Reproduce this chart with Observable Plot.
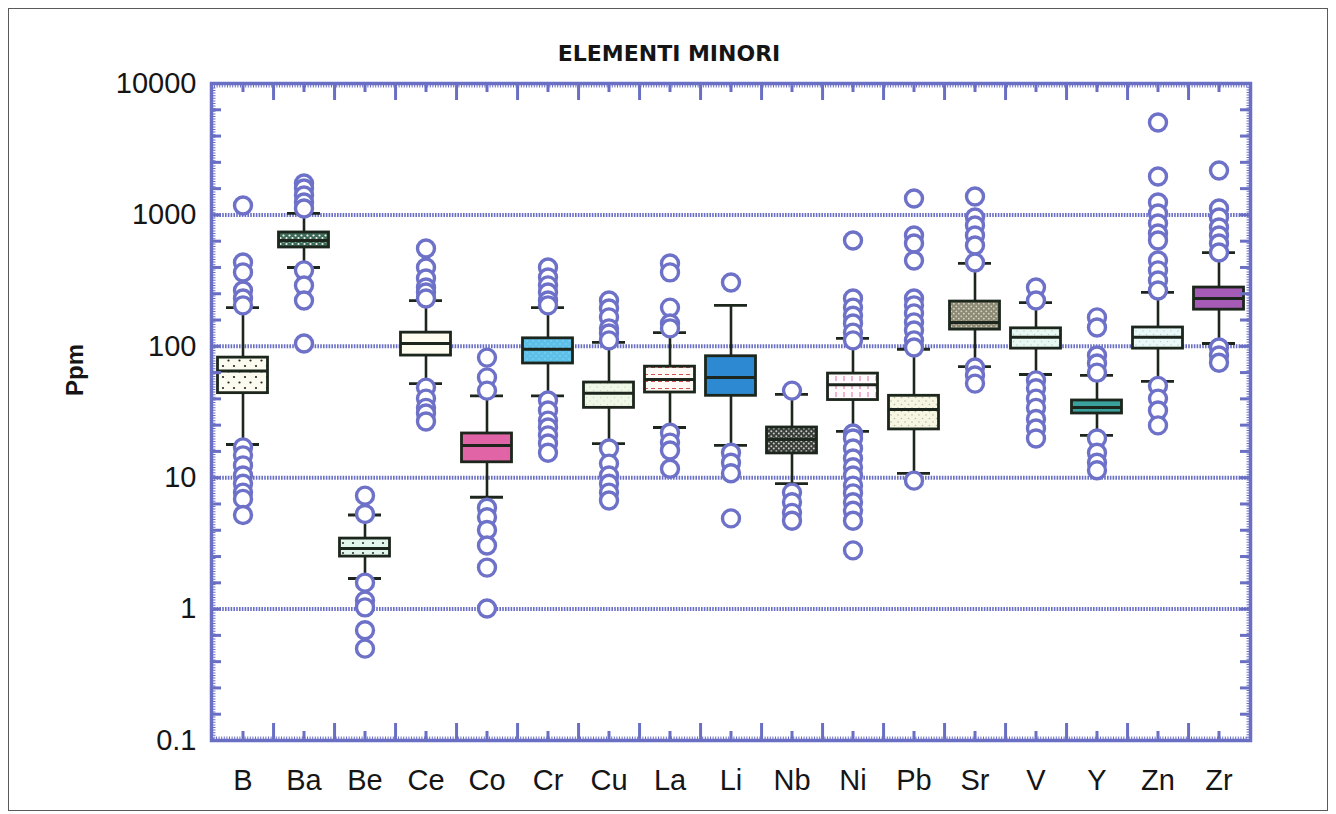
<!DOCTYPE html>
<html>
<head>
<meta charset="utf-8">
<script src="https://cdn.jsdelivr.net/npm/d3@7"></script>
<script src="https://cdn.jsdelivr.net/npm/@observablehq/plot@0.6"></script>
<style>
  body { margin: 0; background: #ffffff; }
  #wrap { position: relative; width: 1336px; height: 814px; overflow: hidden; }
  #wrap svg { position: absolute; left: 0; top: 0; display: block; }
  #border { position: absolute; left: 8px; top: 8px; width: 1320px; height: 803px;
            border: 1.5px solid #5a5a5a; box-sizing: border-box; pointer-events: none; }
</style>
</head>
<body>
<div id="wrap"><div id="border"></div></div>
<script>
// ---------------- data ----------------
const elements    = ["B","Ba","Be","Ce","Co","Cr","Cu","La","Li","Nb","Ni","Pb","Sr","V","Y","Zn","Zr"];
const whiskerLow  = [17.9, 398, 1.71, 52, 7.1, 42, 18.2, 24.1, 17.6, 9.0, 22.5, 10.8, 70, 61, 21, 54, 105];
const quartile1   = [44, 565, 2.51, 85, 13.1, 74, 34, 44.5, 42, 15.3, 39, 23.3, 134, 96, 30.8, 96, 190];
const medians     = [65, 639, 2.89, 105, 17.6, 95, 44, 56, 58, 19.5, 51, 33, 152, 117, 34.2, 117, 231];
const quartile3   = [82, 735, 3.44, 127, 21.7, 115, 53, 70, 84, 24.1, 62, 42, 219, 137, 38.7, 139, 280];
const whiskerHigh = [197, 1026, 5.2, 223, 42, 197, 107, 127, 205, 43, 115, 95, 427, 215, 60, 257, 517];
const outlierValues = [
  [1180, 434, 365, 266, 231, 205, 17, 14.8, 12.4, 10.4, 9.0, 7.7, 6.9, 5.2],           // B
  [1734, 1589, 1405, 1242, 1119, 378, 290, 223, 105],                                  // Ba
  [7.3, 5.3, 1.59, 1.16, 1.03, 0.69, 0.50],                                            // Be
  [555, 398, 328, 280, 257, 231, 48.5, 40, 34, 30.8, 26.8],                            // Ce
  [82, 58, 46, 5.9, 5.0, 4.0, 3.05, 2.07, 1.01],                                       // Co
  [398, 334, 291, 257, 223, 205, 38.7, 32.5, 27.2, 24.1, 21, 18.2, 15.5],              // Cr
  [223, 194, 166, 137, 125, 111, 16.7, 12.8, 10.4, 9.0, 7.7, 6.7],                     // Cu
  [427, 365, 197, 149, 137, 22, 18.5, 16.1, 11.7],                                     // La
  [306, 15.5, 13, 10.8, 4.9],                                                          // Li
  [46, 7.7, 6.5, 5.4, 4.7],                                                            // Nb
  [638, 231, 197, 171, 149, 127, 111, 21.7, 19.9, 16.7, 14, 12, 10.4, 8.7, 7.6, 6.5, 5.6, 4.7, 2.8], // Ni
  [1334, 697, 606, 450, 231, 205, 178, 152, 132, 111, 98, 9.5],                        // Pb
  [1380, 955, 830, 697, 585, 434, 69, 60, 52],                                         // Sr
  [280, 223, 55, 48, 40, 34, 28, 23.7, 19.9],                                          // V
  [166, 139, 85, 74, 63, 19.9, 15.5, 13, 11.4],                                        // Y
  [5045, 1960, 1242, 1026, 861, 722, 639, 450, 378, 317, 266, 50, 40, 32.5, 25],       // Zn
  [2178, 1119, 955, 801, 697, 606, 517, 98, 85, 75]                                    // Zr
];
const yTickValues = [0.1, 1, 10, 100, 1000, 10000];
const yTickLabels = ["0.1", "1", "10", "100", "1000", "10000"];
const gridValues  = [1, 10, 100, 1000];
const titleText = "ELEMENTI MINORI";
const yLabelText = "Ppm";

// ---------------- styles ----------------
const boxFills = ["url(#pB)","url(#pBa)","url(#pBe)","#fffdf0","#e064a6","url(#pCr)","url(#pCu)","url(#pLa)",
                  "#2d8ad2","url(#pNb)","url(#pNi)","url(#pPb)","url(#pSr)","url(#pV)","#3aa09c","url(#pZn)","#a65cb6"];
const axisBlue = "#6a6fc4";
const ink = "#1c261c";

const W = 1336, H = 814, mL = 211, mR = 86, mT = 83, mB = 74;
const frameW = W - mL - mR, frameH = H - mT - mB;
const bw = frameW / elements.length;

const boxes = elements.map((el, i) => ({
  el, lo: whiskerLow[i], q1: quartile1[i], med: medians[i], q3: quartile3[i], hi: whiskerHigh[i], fill: boxFills[i]
}));
const outliers = elements.flatMap((el, i) => outlierValues[i].map(v => ({el, v})));
const minorY = d3.range(-5, 21).map(k => Math.pow(10, k / 5));
const boundaries = elements.slice(0, -1);

const boxInset = 5.5, capInset = 14;

const svg = Plot.plot({
  width: W, height: H,
  marginLeft: mL, marginRight: mR, marginTop: mT, marginBottom: mB,
  style: {fontFamily: "'Liberation Sans', Arial, sans-serif", background: "transparent", color: "#151515"},
  x: {type: "band", domain: elements, padding: 0, axis: null, label: null},
  y: {type: "log", domain: [0.1, 10000], axis: null, label: null},
  marks: [
    // grid
    Plot.ruleY(gridValues, {stroke: axisBlue, strokeWidth: 4, strokeDasharray: "1.6,1.2"}),
    // whiskers
    Plot.ruleX(boxes, {x: "el", y1: "q3", y2: "hi", stroke: ink, strokeWidth: 2.6}),
    Plot.ruleX(boxes, {x: "el", y1: "lo", y2: "q1", stroke: ink, strokeWidth: 2.6}),
    // boxes
    ...boxes.map(b => Plot.barY([b], {x: "el", y1: "q1", y2: "q3", fill: b.fill, stroke: ink, strokeWidth: 2.8,
                                      insetLeft: boxInset, insetRight: boxInset})),
    // medians
    Plot.tickY(boxes, {x: "el", y: "med", stroke: ink, strokeWidth: 3, insetLeft: boxInset, insetRight: boxInset}),
    // caps
    Plot.tickY(boxes, {x: "el", y: "hi", stroke: ink, strokeWidth: 2.8, insetLeft: capInset, insetRight: capInset}),
    Plot.tickY(boxes, {x: "el", y: "lo", stroke: ink, strokeWidth: 2.8, insetLeft: capInset, insetRight: capInset}),
    // outliers
    Plot.dot(outliers, {x: "el", y: "v", r: 8.5, stroke: "#6d71c8", strokeWidth: 3.4, fill: "white"}),
    // frame
    Plot.frame({stroke: axisBlue, strokeWidth: 3.5}),
    Plot.frame({stroke: axisBlue, strokeWidth: 3, strokeDasharray: "1,1.6", inset: 2.5}),
    // left / right minor ticks
    Plot.tickY(minorY, {y: d => d, stroke: axisBlue, strokeWidth: 3, insetRight: frameW - 10}),
    Plot.tickY(minorY, {y: d => d, stroke: axisBlue, strokeWidth: 3, insetLeft: frameW - 10}),
    // top ticks
    Plot.tickX(elements, {x: d => d, stroke: axisBlue, strokeWidth: 3, insetBottom: frameH - 9}),
    Plot.tickX(boundaries, {x: d => d, dx: bw / 2, stroke: axisBlue, strokeWidth: 3, insetBottom: frameH - 17}),
    // bottom ticks
    Plot.tickX(elements, {x: d => d, stroke: axisBlue, strokeWidth: 3, insetTop: frameH - 9}),
    Plot.tickX(boundaries, {x: d => d, dx: bw / 2, stroke: axisBlue, strokeWidth: 3, insetTop: frameH - 17}),
    // axes labels
    Plot.axisY(yTickValues, {anchor: "left", tickSize: 0, tickPadding: 15, fontSize: 29, label: null,
                             tickFormat: d => yTickLabels[yTickValues.indexOf(d)]}),
    Plot.axisX({anchor: "bottom", tickSize: 0, tickPadding: 29, fontSize: 29, label: null}),
    // title and y label
    Plot.text([titleText], {frameAnchor: "top", dx: -62, dy: -38, fontSize: 22, fontWeight: "bold",
                            fontFamily: "'DejaVu Sans', sans-serif", fill: "#151515"}),
    Plot.text([yLabelText], {frameAnchor: "left", dx: -136, dy: -16, rotate: -90, fontSize: 24, fontWeight: "bold", fill: "#151515"})
  ]
});

// ---------------- patterns ----------------
const defs = d3.select(svg).insert("defs", ":first-child");
function pattern(id, size, bg, draw) {
  const p = defs.append("pattern").attr("id", id).attr("patternUnits", "userSpaceOnUse")
    .attr("width", size).attr("height", size);
  p.append("rect").attr("width", size).attr("height", size).attr("fill", bg);
  draw(p);
}
const dots = (pts, r, c) => p => pts.forEach(([x, y]) => p.append("circle").attr("cx", x).attr("cy", y).attr("r", r).attr("fill", c));
pattern("pB", 11, "#fbfbf0", dots([[3, 3], [8.5, 8.5]], 1.1, "#222"));
pattern("pBa", 6, "#3f6b5a", dots([[1.5, 1.5], [4.5, 4]], 1.1, "#f0f4ee"));
pattern("pBe", 10, "#e2f6ee", dots([[3, 3]], 1.1, "#333"));
pattern("pCr", 6, "#5cc0e8", dots([[2, 2], [5, 5]], 0.8, "#8fd6f2"));
pattern("pCu", 7, "#eff8e6", dots([[2, 2], [5.5, 5.5]], 0.7, "#c9dcc0"));
pattern("pLa", 7, "#fffaf6", p => p.append("line").attr("x1", 0).attr("x2", 4).attr("y1", 3.5).attr("y2", 3.5)
  .attr("stroke", "#d4524e").attr("stroke-width", 1));
pattern("pNb", 5, "#3a3e3a", dots([[1.3, 1.3], [3.8, 3.6]], 1.0, "#c8ccc4"));
pattern("pNi", 8, "#fffafc", p => p.append("line").attr("x1", 4).attr("x2", 4).attr("y1", 0).attr("y2", 5)
  .attr("stroke", "#d870a8").attr("stroke-width", 1));
pattern("pPb", 7, "#f6f6e2", dots([[2, 2], [5.5, 5.5]], 0.8, "#b8b8a0"));
pattern("pSr", 5, "#8c8a74", dots([[1.3, 1.3], [3.8, 3.7]], 0.9, "#d8d6c6"));
pattern("pV", 7, "#e8f8f3", dots([[2, 2], [5.5, 5.5]], 0.7, "#b4d0c8"));
pattern("pZn", 7, "#eaf8f7", dots([[2, 2], [5.5, 5.5]], 0.7, "#b0d4d0"));

document.getElementById("wrap").prepend(svg);
</script>
</body>
</html>
